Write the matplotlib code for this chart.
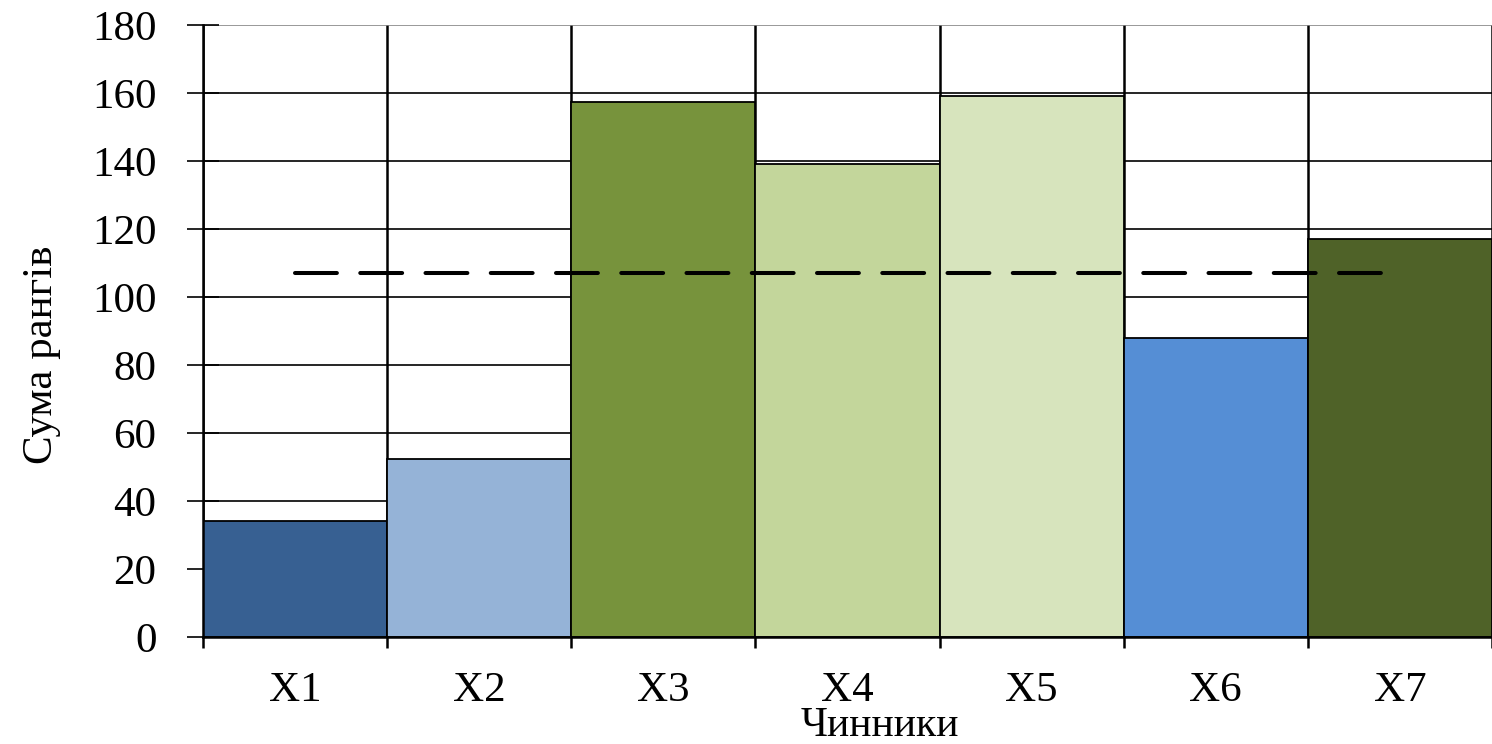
import matplotlib
matplotlib.use('Agg')
import matplotlib.pyplot as plt
import numpy as np

# data
factors = ['X1', 'X2', 'X3', 'X4', 'X5', 'X6', 'X7']
rank_sums = [34, 52.5, 157.5, 139, 159, 88, 117]
mean_level = 107
colors = ['#376092', '#95B3D7', '#77933C', '#C3D69B', '#D7E4BD', '#558ED5', '#4F6228']

plt.rcParams['font.family'] = ['Liberation Serif', 'DejaVu Serif']

fig = plt.figure(figsize=(14.92, 7.44), dpi=100)
ax = fig.add_axes([203 / 1492, 1 - 637 / 744, 1 - 203 / 1492, (637 - 25) / 744])

x = np.arange(len(factors))
ax.bar(x, rank_sums, width=1.0, color=colors, edgecolor='black', linewidth=1.3, zorder=2)

# mean line, dashed
ln, = ax.plot([x[0], x[-1]], [mean_level, mean_level], color='black', lw=2.9,
              zorder=4, dash_capstyle='round')
ln.set_dashes((10.4, 5.8))

ax.set_xlim(-0.5, len(factors) - 0.5)
ax.set_ylim(0, 180)
ax.set_yticks(np.arange(0, 181, 20))
ax.set_xticks(x)
ax.set_xticklabels(factors)
ax.set_xticks(np.arange(-0.5, len(factors)), minor=True)

ax.set_axisbelow(True)
ax.grid(axis='y', which='major', color='black', lw=1.2)
ax.grid(axis='x', which='minor', color='black', lw=1.8)
ax.yaxis.get_gridlines()[-1].set_color('#888888')

ax.tick_params(axis='y', which='major', direction='inout', length=23, width=1.2,
               labelsize=31, pad=22)
ax.tick_params(axis='x', which='major', length=0, labelsize=31, pad=25)
ax.tick_params(axis='x', which='minor', direction='out', length=8, width=1.8)

for s in ['top', 'right']:
    ax.spines[s].set_visible(False)
ax.spines['left'].set_linewidth(1.8)
ax.spines['bottom'].set_linewidth(1.8)

ax.set_xlabel('Чинники', fontsize=30)
ax.xaxis.set_label_coords(0.525, -0.114)
ax.set_ylabel('Сума рангів', fontsize=31)
ax.yaxis.set_label_coords(-0.110, 0.462)

fig.savefig('out.png', dpi=100)
